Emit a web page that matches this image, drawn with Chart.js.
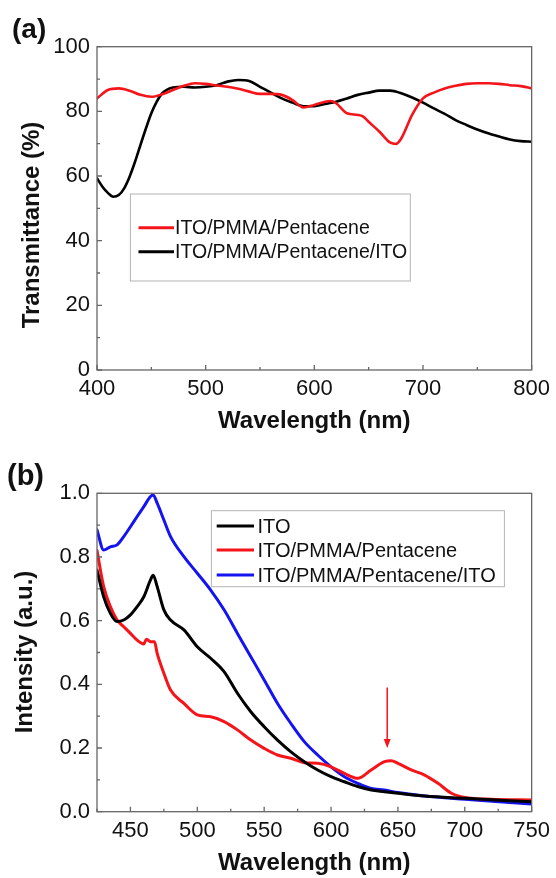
<!DOCTYPE html>
<html>
<head>
<meta charset="utf-8">
<script src="https://cdn.jsdelivr.net/npm/chart.js@4.4.0/dist/chart.umd.min.js"></script>
<style>
html,body{margin:0;padding:0;background:#fff;}
#wrap{position:relative;width:556px;height:878px;overflow:hidden;}
canvas{position:absolute;left:0;}
</style>
</head>
<body>
<div id="wrap">
  <canvas id="chartA" width="556" height="440" style="top:0px"></canvas>
  <canvas id="chartB" width="556" height="438" style="top:440px"></canvas>
</div>
<script>
// ---- panel (a) : transmittance ----
const aLabels = ['ITO/PMMA/Pentacene', 'ITO/PMMA/Pentacene/ITO'];
const aXTicks = [400,500,600,700,800];
const aRedX = [400,410,420,430,440,450,460,470,480,490,500,510,520,530,540,550,560,570,580,590,600,610,615,620,630,640,645,650,660,670,675,680,690,700,710,720,730,740,750,760,770,780,790,800];
const aRedY = [84.0,86.6,87.1,86.4,85.1,84.5,85.3,86.6,87.9,88.7,88.5,88.0,87.6,87.0,86.1,85.4,85.4,85.1,83.5,81.2,82.0,83.0,83.2,82.5,79.4,78.9,78.4,76.8,73.7,70.3,69.9,71.6,78.9,84.0,85.8,87.1,87.9,88.5,88.7,88.7,88.5,88.1,87.8,87.1];
const aBlackX = [400,405,410,415,420,425,430,435,440,445,450,455,460,470,480,490,500,510,520,530,540,550,560,570,580,590,600,610,620,630,640,650,660,670,680,690,700,710,720,730,740,750,760,770,780,790,800];
const aBlackY = [59.3,56.7,54.8,53.6,54.1,56.2,59.8,64.4,69.6,74.7,79.4,83.0,85.6,87.4,87.6,87.4,87.6,88.1,89.2,89.7,89.4,87.6,85.8,84.0,82.7,81.6,81.6,82.3,83.0,84.0,85.1,85.8,86.4,86.4,85.6,84.3,82.7,80.9,79.2,77.3,75.8,74.4,73.2,72.2,71.3,70.8,70.6];

// ---- panel (b) : intensity ----
const bLabels = ['ITO', 'ITO/PMMA/Pentacene', 'ITO/PMMA/Pentacene/ITO'];
const bXTicks = [450,500,550,600,650,700,750];
const bItoX = [425,430,435,440,445,450,455,460,465,467,470,475,480,490,500,510,520,530,540,550,560,570,580,590,600,610,620,630,640,650,670,700,750];
const bItoY = [0.759,0.675,0.623,0.597,0.602,0.618,0.644,0.675,0.728,0.743,0.707,0.634,0.602,0.571,0.518,0.482,0.440,0.372,0.314,0.267,0.225,0.188,0.157,0.131,0.110,0.094,0.079,0.068,0.063,0.058,0.049,0.042,0.031];
const bPenX = [425,430,435,440,445,450,455,460,462,465,468,470,475,480,490,500,510,520,530,540,550,560,570,580,590,600,610,620,630,640,645,650,660,670,680,690,700,720,750];
const bPenY = [0.82,0.707,0.644,0.602,0.581,0.560,0.539,0.527,0.542,0.534,0.534,0.497,0.435,0.382,0.340,0.304,0.298,0.283,0.257,0.225,0.199,0.178,0.168,0.154,0.152,0.141,0.120,0.105,0.131,0.157,0.160,0.152,0.131,0.115,0.089,0.058,0.045,0.039,0.037];
const bPenItoX = [425,430,435,440,445,450,455,460,465,467,470,475,480,490,500,510,520,530,540,550,560,570,580,590,600,610,620,630,640,650,670,700,750];
const bPenItoY = [0.885,0.822,0.832,0.838,0.864,0.895,0.927,0.958,0.990,0.995,0.969,0.916,0.864,0.801,0.749,0.696,0.634,0.560,0.487,0.414,0.340,0.277,0.220,0.178,0.141,0.110,0.089,0.073,0.068,0.060,0.049,0.039,0.024];
// arrow marking the 642 nm peak (x, from y, to y)
const bArrow = [642, 0.39, 0.20];

const RED = '#f4141a', BLACK = '#000000', BLUE = '#1414f0';
const FONT = '"Liberation Sans", Arial, Helvetica, sans-serif';

function pts(xs, ys){ return xs.map((x,i)=>({x:x, y:ys[i]})); }

// frame + inward major/minor ticks
const framePlugin = {
  id:'frame',
  afterDatasetsDraw(chart, args, o){
    const {ctx, chartArea:a, scales:{x, y}} = chart;
    ctx.save();
    ctx.strokeStyle = '#666'; ctx.lineWidth = 1.3;
    ctx.strokeRect(a.left, a.top, a.right-a.left, a.bottom-a.top);
    ctx.beginPath();
    for(let i=0; ; i++){
      const v = x.min + i*o.xMinor; if(v > x.max+1e-9) break;
      const px = x.getPixelForValue(v);
      const r = (v - o.xMajor0) / o.xMajor;
      const len = Math.abs(r - Math.round(r)) < 1e-6 ? 5 : 3;
      ctx.moveTo(px, a.bottom); ctx.lineTo(px, a.bottom-len);
    }
    for(let i=0; ; i++){
      const v = y.min + i*o.yMinor; if(v > y.max+1e-9) break;
      const py = y.getPixelForValue(v);
      const len = (i % 2 === 0) ? 5 : 3;
      ctx.moveTo(a.left, py); ctx.lineTo(a.left+len, py);
    }
    ctx.stroke();
    ctx.restore();
  }
};

// titles, panel letter, legend box, annotation arrow
const decoPlugin = {
  id:'deco',
  afterDraw(chart, args, o){
    const {ctx, chartArea:a} = chart;
    ctx.save();
    ctx.fillStyle = '#111';
    // panel letter
    ctx.font = 'bold '+o.tagSize+'px '+FONT;
    ctx.textBaseline = 'middle'; ctx.textAlign = 'left';
    ctx.fillText(o.tag, o.tagX, o.tagY);
    // x title
    ctx.font = 'bold 24px '+FONT;
    ctx.textAlign = 'center'; ctx.textBaseline = 'alphabetic';
    ctx.fillText(o.xTitle, (a.left+a.right)/2, o.xTitleY);
    // y title
    ctx.save();
    ctx.translate(o.yTitleX, o.yTitleY);
    ctx.rotate(-Math.PI/2);
    ctx.textBaseline = 'middle';
    ctx.fillText(o.yTitle, 0, 0);
    ctx.restore();
    // legend
    const L = o.legend;
    ctx.strokeStyle = '#b4b4b4'; ctx.lineWidth = 1;
    ctx.strokeRect(L.x0, L.y0, L.x1-L.x0, L.y1-L.y0);
    ctx.font = L.size+'px '+FONT;
    ctx.textAlign = 'left'; ctx.textBaseline = 'middle';
    chart.data.datasets.forEach((ds, i)=>{
      const ry = L.rows[i];
      ctx.strokeStyle = ds.borderColor; ctx.lineWidth = 3;
      ctx.beginPath(); ctx.moveTo(L.lx0, ry); ctx.lineTo(L.lx1, ry); ctx.stroke();
      ctx.fillStyle = '#111';
      ctx.fillText(ds.label, L.tx, ry+1);
    });
    // arrow
    if(o.arrow){
      const {x, y} = chart.scales;
      const ax = x.getPixelForValue(o.arrow[0]);
      const y0 = y.getPixelForValue(o.arrow[1]);
      const y1 = y.getPixelForValue(o.arrow[2]);
      ctx.strokeStyle = RED; ctx.fillStyle = RED; ctx.lineWidth = 1.5;
      ctx.beginPath(); ctx.moveTo(ax, y0); ctx.lineTo(ax, y1-7); ctx.stroke();
      ctx.beginPath(); ctx.moveTo(ax-3.5, y1-9); ctx.lineTo(ax+3.5, y1-9); ctx.lineTo(ax, y1); ctx.closePath(); ctx.fill();
    }
    ctx.restore();
  }
};

function baseOptions(cfg){
  return {
    responsive:false, animation:false,
    layout:{padding:{left:0, right:cfg.padRight, top:cfg.padTop, bottom:0}},
    plugins:{legend:{display:false}, tooltip:{enabled:false},
      frame:cfg.frame, deco:cfg.deco},
    elements:{point:{radius:0}, line:{cubicInterpolationMode:'monotone', borderCapStyle:'round', borderJoinStyle:'round'}},
    scales:{
      x:{type:'linear', min:cfg.xMin, max:cfg.xMax,
        grid:{display:false, drawTicks:false}, border:{display:false},
        ticks:{padding:6, color:'#111', font:{size:22, family:FONT}},
        afterBuildTicks:s=>{ s.ticks = cfg.xTicks.map(v=>({value:v})); },
        afterFit:s=>{ s.height = cfg.xHeight; }},
      y:{type:'linear', min:cfg.yMin, max:cfg.yMax,
        grid:{display:false, drawTicks:false}, border:{display:false},
        ticks:{stepSize:cfg.yStep, padding:7, color:'#111', font:{size:22, family:FONT}, callback:cfg.yFmt},
        afterFit:s=>{ s.width = 97; }}
    }
  };
}

new Chart(document.getElementById('chartA'), {
  type:'line',
  data:{datasets:[
    {label:aLabels[0], data:pts(aRedX, aRedY), borderColor:RED, borderWidth:2.6, fill:false},
    {label:aLabels[1], data:pts(aBlackX, aBlackY), borderColor:BLACK, borderWidth:2.6, fill:false}
  ]},
  options:baseOptions({
    padRight:24.3, padTop:46.7, xHeight:70,
    xMin:400, xMax:800, xTicks:aXTicks, yMin:0, yMax:100, yStep:20, yFmt:v=>v,
    frame:{xMajor0:400, xMinor:50, xMajor:100, yMinor:10},
    deco:{tag:'(a)', tagSize:28, tagX:12, tagY:30,
      xTitle:'Wavelength (nm)', xTitleY:428, yTitle:'Transmittance (%)', yTitleX:32, yTitleY:225,
      legend:{x0:130.4, y0:194, x1:410.3, y1:281, size:19.5, lx0:138.5, lx1:174, tx:175, rows:[227.7, 251.7]}}
  }),
  plugins:[framePlugin, decoPlugin]
});

new Chart(document.getElementById('chartB'), {
  type:'line',
  data:{datasets:[
    {label:bLabels[0], data:pts(bItoX, bItoY), borderColor:BLACK, borderWidth:3, fill:false},
    {label:bLabels[1], data:pts(bPenX, bPenY), borderColor:RED, borderWidth:3, fill:false},
    {label:bLabels[2], data:pts(bPenItoX, bPenItoY), borderColor:BLUE, borderWidth:3, fill:false}
  ]},
  options:baseOptions({
    padRight:24.3, padTop:53.3, xHeight:66.3,
    xMin:425, xMax:750, xTicks:bXTicks, yMin:0, yMax:1, yStep:0.2, yFmt:v=>Number(v).toFixed(1),
    frame:{xMajor0:450, xMinor:25, xMajor:50, yMinor:0.1},
    deco:{tag:'(b)', tagSize:29, tagX:7, tagY:37,
      xTitle:'Wavelength (nm)', xTitleY:430, yTitle:'Intensity (a.u.)', yTitleX:25, yTitleY:212,
      legend:{x0:211.4, y0:70.7, x1:504.4, y1:146.7, size:20, lx0:216.7, lx1:254, tx:257.5, rows:[86, 110, 135]},
      arrow:bArrow}
  }),
  plugins:[framePlugin, decoPlugin]
});
</script>
</body>
</html>
